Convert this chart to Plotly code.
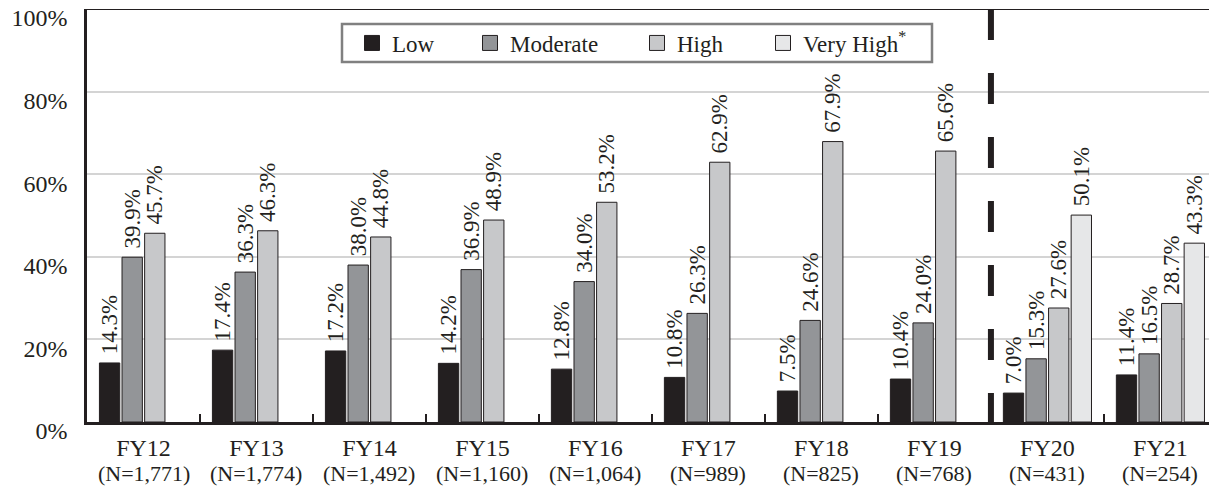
import plotly.graph_objects as go

years = ["FY12", "FY13", "FY14", "FY15", "FY16", "FY17", "FY18", "FY19", "FY20", "FY21"]
n_labels = ["(N=1,771)", "(N=1,774)", "(N=1,492)", "(N=1,160)", "(N=1,064)",
            "(N=989)", "(N=825)", "(N=768)", "(N=431)", "(N=254)"]
low = [14.3, 17.4, 17.2, 14.2, 12.8, 10.8, 7.5, 10.4, 7.0, 11.4]
moderate = [39.9, 36.3, 38.0, 36.9, 34.0, 26.3, 24.6, 24.0, 15.3, 16.5]
high = [45.7, 46.3, 44.8, 48.9, 53.2, 62.9, 67.9, 65.6, 27.6, 28.7]
very_high = [None, None, None, None, None, None, None, None, 50.1, 43.3]
y_ticks = [0, 20, 40, 60, 80, 100]

series_names = ["Low", "Moderate", "High", "Very High<sup>*</sup>"]
series_vals = [low, moderate, high, very_high]
series_cols = ["#231f20", "#939598", "#c7c8ca", "#e6e7e8"]

FONT = "Liberation Serif"
INK = "#231f20"

W, H = 1209, 491
ML, MR, MT, MB = 87, 0, 9, 69
PW, PH = W - ML - MR, H - MT - MB


def px_x(px):  # page pixel -> paper x
    return (px - ML) / PW


def px_y(py):  # page pixel -> paper y
    return (H - MB - py) / PH


fig = go.Figure()
for name, vals, col in zip(series_names, series_vals, series_cols):
    fig.add_trace(go.Bar(
        x=years, y=vals, name=name, showlegend=False,
        marker=dict(color=col, line=dict(color=INK, width=1)),
        texttemplate="\u00a0%{y:.1f}%", textposition="outside", textangle=-90,
        constraintext="none", cliponaxis=False,
        textfont=dict(family=FONT, size=23, color=INK),
    ))

legend_ids = ["legend", "legend2", "legend3", "legend4"]
legend_px = [352, 470, 637, 763]
for name, col, lid in zip(series_names, series_cols, legend_ids):
    fig.add_trace(go.Scatter(
        x=[None], y=[None], mode="markers", name=name, legend=lid, showlegend=True,
        marker=dict(symbol="square", size=15, color=col, line=dict(color=INK, width=1)),
    ))

legend_cfg = {}
for lid, lx in zip(legend_ids, legend_px):
    legend_cfg[lid] = dict(
        x=px_x(lx), y=px_y(43), xanchor="left", yanchor="middle",
        bgcolor="rgba(0,0,0,0)", borderwidth=0,
        font=dict(family=FONT, size=23, color=INK),
    )

annotations = [
    dict(x=yr, y=0, xref="x", yref="y", text=n, showarrow=False,
         xanchor="center", yanchor="middle", yshift=-(473 - 422),
         font=dict(family=FONT, size=22, color=INK))
    for yr, n in zip(years, n_labels)
]

fig.update_layout(
    width=W, height=H,
    margin=dict(l=ML, r=MR, t=MT, b=MB, pad=0),
    paper_bgcolor="white", plot_bgcolor="white",
    barmode="group", bargap=0.2, bargroupgap=0.1,
    font=dict(family=FONT, color=INK),
    showlegend=True,
    xaxis=dict(
        type="category", range=[-0.5, 9.43],
        tickmode="array", tickvals=years, ticktext=years,
        ticks="inside", tickson="boundaries", ticklen=8, tickwidth=2, tickcolor=INK,
        showline=True, linecolor=INK, linewidth=3,
        tickfont=dict(family=FONT, size=24, color=INK),
        ticklabelstandoff=2,
        showgrid=False, automargin=False,
    ),
    yaxis=dict(
        range=[0, 100], tickvals=y_ticks, ticktext=[f"{v}%" for v in y_ticks],
        showgrid=True, gridcolor="#d4d4d4", gridwidth=2,
        zeroline=False, showline=True, linecolor=INK, linewidth=2.5,
        ticks="", tickfont=dict(family=FONT, size=24, color=INK),
        ticklabelshift=9, ticklabelstandoff=12, ticklabeloverflow="allow",
        automargin=False,
    ),
    shapes=[
        dict(type="line", xref="paper", x0=0, x1=1, yref="y", y0=100, y1=100,
             line=dict(color=INK, width=2)),
        dict(type="line", xref="x", x0=7.5, x1=7.5, yref="y", y0=100, y1=0,
             line=dict(color=INK, width=6, dash="31px,33px")),
        dict(type="rect", xref="paper", yref="paper",
             x0=px_x(342), x1=px_x(932), y0=px_y(62), y1=px_y(24),
             line=dict(color="#808080", width=2.5), fillcolor="rgba(0,0,0,0)"),
    ],
    annotations=annotations,
    **legend_cfg,
)

fig.write_html(
    "out.html",
    config={"displayModeBar": False},
    post_script="document.body.style.margin='0';document.body.style.overflow='hidden';",
)
